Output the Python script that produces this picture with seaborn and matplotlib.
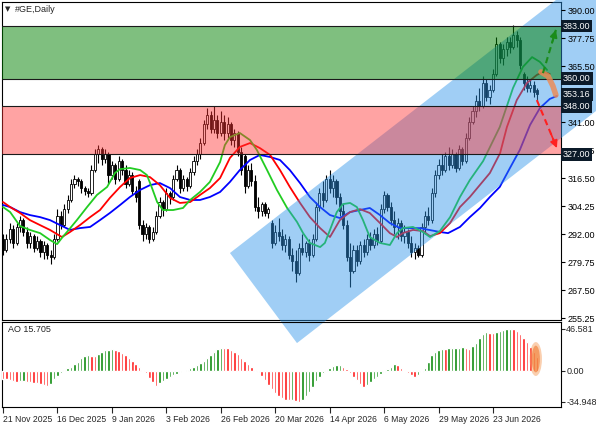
import numpy as np
import matplotlib
matplotlib.use("Agg")
import matplotlib.pyplot as plt
import seaborn as sns
from matplotlib.patches import Polygon, Rectangle, Ellipse

# ---------------- data ----------------
open_ = [290,285,290,294,288,295,298,293,288,291, 286,289,284,287,283,282,290,300,296,303,
         307,314,316,315,312,311,310,320,327,329, 325,327,318,322,316,324,320,314,318,311,
         315,296,292,295,290,293,300,306,303,310, 308,316,320,312,316,313,319,324,327,332,
         340,344,338,342,336,341,336,340,333,336, 328,326,313,320,315,304,302,305,301,297,
         288,293,291,287,290,283,280,275,286,284, 288,283,290,304,310,307,316,312,315,308,
         302,296,282,276,285,280,287,284,290,287, 292,289,303,309,304,298,295,297,291,293,
         288,284,286,283,295,300,298,310,318,322, 320,326,322,327,321,329,324,334,341,346,
         350,348,358,352,355,362,375,369,373,376, 374,379,377,362,358,356,357,355]
high = [292,292,297,296,297,300,299,295,293,292, 291,290,289,288,285,292,303,302,305,309,
        316,318,317,316,313,312,322,329,331,330, 329,328,324,323,326,325,322,320,319,313,
        316,298,297,296,295,302,308,307,312,311, 318,322,321,318,317,321,326,329,334,342,
        347,346,348,344,346,344,343,341,338,337, 330,327,322,323,318,308,306,306,304,298,
        296,299,294,292,291,286,285,288,292,289, 290,292,306,312,315,318,320,318,316,310,
        305,298,288,287,287,289,290,292,293,294, 295,305,311,310,306,302,299,298,296,294,
        291,288,287,297,302,304,312,320,325,327, 328,330,329,328,331,330,336,343,348,353,
        356,361,360,357,364,378,376,375,378,378, 383.5,381,378,363,361,360,359,356]
low = [283,284,288,286,287,293,291,286,286,284, 285,282,281,281,279,281,289,294,295,301,
       306,312,313,310,309,308,309,319,323,322, 323,314,316,314,315,318,312,313,309,306,
       294,289,290,288,289,292,299,300,302,305, 307,315,310,311,311,312,318,322,325,331,
       338,336,336,334,335,333,334,331,330,326, 318,310,312,313,302,299,300,300,299,286,
       287,289,285,284,281,276,271,274,283,282, 280,282,289,302,304,306,310,308,305,300,
       294,280,269,275,278,279,282,283,285,286, 287,288,301,302,296,292,290,289,288,286,
       282,281,282,282,292,296,297,308,316,318, 319,320,321,319,320,322,323,333,340,343,
       346,347,350,349,354,361,367,366,370,371, 373,374,364,355,354,354,352,350]
close = [285,290,294,288,295,298,293,288,291,286, 289,284,287,283,282,290,300,296,303,307,
         314,316,315,312,311,310,320,327,329,325, 327,318,322,316,324,320,314,318,311,308,
         296,292,295,290,293,300,306,303,310,308, 316,320,312,316,313,319,324,327,332,340,
         344,338,342,336,341,336,340,333,336,328, 320,313,320,315,304,302,305,301,303,288,
         293,291,287,290,283,280,275,286,284,288, 283,290,304,310,307,316,312,315,308,302,
         296,282,276,285,280,287,284,290,287,292, 289,303,309,304,298,295,297,291,293,288,
         284,286,283,295,300,298,310,318,322,320, 326,322,327,321,329,324,334,341,346,350,
         348,358,352,355,362,375,369,373,376,374, 379,377,366,358,356,357,354,353.16]

# Alligator lines (bar position incl. forward shift, value)
jaw_bar = [0,2.1,5,7.9,10.9,13.8,16.8,19.7,22.6,25.6,28.5,31.4,34.4,37.3,40.3,43.2,46.1,49.1,52,55,
           57.9,60.8,63.8,66.7,69.6,72.6,75.5,78.5,81.4,84.3,87.3,90.2,93.2,96.1,99,102,104.9,107.8,
           110.8,113.7,116.7,122.5,128.4,130.8,134.3,137.2,140.2,143.1,146,149,151.9,154.9,157.8,160.7,162.8]
jaw_val = [304.7,303.8,301.6,300.3,299.4,298.1,295.9,293.8,294.6,295.1,298.1,301.2,304.7,308.2,311.3,
           313.4,314.3,312.1,308.2,306.9,306.9,308.2,310.4,314.8,320.0,324.4,326.6,325.7,324.4,320.0,
           314.3,308.2,303.8,300.3,299.0,301.6,302.5,303.4,300.3,296.8,294.6,294.6,292.9,292.4,295.1,
           299.4,303.4,308.2,312.6,320.9,328.8,339.7,347.1,351.1,352.4]
teeth_bar = [0,2.1,5,7.9,10.9,13.8,17.3,19.7,22.6,25.6,28.5,31.4,34.4,37.3,40.3,43.2,46.1,49.1,52,55,
             57.9,60.8,63.8,66.7,69.6,72.6,75.5,78.5,81.4,84.3,87.3,90.2,93.2,96.1,99,102,104.9,107.8,
             110.8,113.7,115.8,117.5,120.5,123.4,125.5,128.4,131.4,134.3,137.2,143.1,146.1,148.1,151,
             154,156.9,158.7,160.7]
teeth_val = [306.0,303.8,301.2,298.1,295.9,293.8,290.7,292.9,295.9,299.4,302.5,307.8,312.6,316.5,317.8,
             316.9,313.4,307.8,305.6,306.0,309.1,312.1,316.5,325.3,330.1,331.8,329.6,326.6,320.0,312.6,
             305.6,299.4,294.6,290.7,298.1,301.6,302.9,301.2,296.8,292.4,290.7,292.4,293.8,293.3,291.1,
             292.4,296.8,303.8,308.2,318.7,327.4,338.8,350.6,358.1,361.6,362.9,362.0]
lips_bar = [0,2.1,5,7.9,10.9,13.8,15.9,17.3,18.8,21.7,24.7,27.6,30.6,32.9,34.4,37.3,40.3,42.3,43.8,45.3,
            47,50,52.9,55,57.9,60.8,63.8,65.2,66.7,69.6,72.6,74.6,77.6,80.5,83.5,86.4,88.2,90.2,93.2,
            94.6,96.1,98.1,99.9,102,104,105.8,107.8,110.8,113.7,115.8,117.5,120.5,123.4,125.5,128.4,
            131.4,134.3,137.2,141.1,146,149.9,152.8,155.5,157.8,159.9]
lips_val = [303.8,301.6,295.5,293.8,292.4,289.4,287.6,290.3,292.9,298.1,303.8,309.1,312.6,318.7,320.4,
            320.9,320.0,317.8,312.1,306.0,302.5,302.5,303.4,306.9,310.4,314.8,323.5,330.9,334.4,336.2,
            333.1,328.8,320.0,311.3,303.4,297.3,292.4,288.1,286.3,288.1,293.8,301.6,305.1,305.6,303.8,
            298.1,290.7,288.1,287.2,292.4,294.6,295.1,292.9,290.7,293.3,299.4,308.2,315.6,323.9,338.8,
            355.9,365.1,369.4,367.3,363.8]

ao = [-9,-10,-11,-12,-12.5,-12,-11.5,-12.5,-13,-13.5,
      -14.5,-15.5,-16.5,-17.5,-15,-10,-6,-2.5,0.5,2.5,
      4.5,7,10,13.5,16,17.2,16.5,15.8,18.5,20.5,
      22.5,23.5,24,23,21.5,19.5,17,14,10.5,7,
      3.5,0.5,-3,-8,-13,-17,-14.5,-11.5,-9,-7,
      -5,-3.5,-2,-0.5,1,2.5,4,6,8.5,11,
      14,17.5,21,24,25.5,25.3,24.8,23.5,21,18,
      14.5,11,7.5,4,1,-2,-6,-11,-16,-21,
      -25,-28.5,-31,-32.5,-33.5,-32.8,-33.8,-34.948,-33,-29,
      -24,-18,-12,-7,-3,1,3,5,6,6.5,
      4.5,1.5,-3,-7,-11,-15,-18,-16.5,-13,-10,
      -7,-4,-1.5,1.5,4,7.5,6,3,-0.5,-3,
      -5.5,-7.5,-5,-2,3,10,17,21,23.5,24.5,
      24,24.8,25.2,25.5,25.8,26,25.3,24.6,27,31,
      36,40.5,43.5,42.5,42,43.5,44.5,45.5,46.1,46.581,
      46.3,44.5,41,37,32,26.5,21,15.705]

date_tick_bars = [0, 16, 32, 48, 64, 80, 96, 112, 128, 144]
date_labels = ["21 Nov 2025", "16 Dec 2025", "9 Jan 2026", "3 Feb 2026", "26 Feb 2026",
               "20 Mar 2026", "14 Apr 2026", "6 May 2026", "29 May 2026", "23 Jun 2026"]
price_ticks = [255.25, 267.50, 279.75, 292.00, 304.25, 316.50, 328.75, 341.00,
               353.25, 365.50, 377.75, 390.00]
hidden_ticks = [353.25]          # fully covered by the current-price box
green_zone = (360.0, 383.0)
red_zone = (327.0, 348.0)
box_labels = [383.00, 360.00, 353.16, 348.00, 327.00]
ao_ticks = [-34.948, 0.0, 46.581]
ao_tick_labels = ["-34.948", "0.00", "46.581"]

# analyst drawings (bar, price)
channel_pts = [(66.7, 283.7), (86.4, 244.3), (216.0, 394.0), (196.3, 433.4)]
up_arrow = [(158.7, 362.4), (162.5, 381.3)]
down_arrow = [(156.9, 350.6), (162.8, 329.6)]
orange_bar = [158.1, 160.2, 161.6, 162.5]
orange_val = [362.9, 361.1, 356.8, 352.8]

# ---------------- figure ----------------
sns.set_style("white")
plt.rcParams['font.family'] = ['Liberation Sans', 'DejaVu Sans']
FS = 6.5
FSX = 6.2

W, H = 596, 425
fig = plt.figure(figsize=(W / 100, H / 100), dpi=100)
fig.patch.set_facecolor('white')
LPX, RPX = 2, 561


def rect(top, bottom):
    return [LPX / W, 1 - bottom / H, (RPX - LPX) / W, (bottom - top) / H]


ax = fig.add_axes(rect(2, 320))
ax2 = fig.add_axes(rect(322, 407))
ax.set_facecolor('white')
ax2.set_facecolor('none')

XMIN, XMAX = -0.3, 164.0
n = len(close)
x = np.arange(n)
o, h, l, c = (np.asarray(a, float) for a in (open_, high, low, close))
up = c >= o

ax.vlines(x, l, h, color='black', lw=0.8, zorder=2)
ax.bar(x, np.maximum(np.abs(c - o), 0.35), bottom=np.minimum(o, c), width=0.62,
       color=np.where(up, 'white', 'black'), edgecolor='black', linewidth=0.6, zorder=3)

for bars, vals, col in [(jaw_bar, jaw_val, '#0000ff'),
                        (teeth_bar, teeth_val, '#ff0000'),
                        (lips_bar, lips_val, '#22cc22')]:
    sns.lineplot(x=bars, y=vals, ax=ax, color=col, lw=1.3, sort=False,
                 estimator=None, zorder=4)

chan = Polygon(channel_pts, closed=True, facecolor=(44 / 255, 148 / 255, 233 / 255),
               alpha=0.45, edgecolor='none', zorder=5, clip_on=False)
ax.add_patch(chan)

ytr = ax.get_yaxis_transform()
ax.add_patch(Rectangle((0, green_zone[0]), 1, green_zone[1] - green_zone[0], transform=ytr,
                       facecolor=(0, 0.5, 0), alpha=0.5, edgecolor='none', zorder=6))
ax.add_patch(Rectangle((0, red_zone[0]), 1, red_zone[1] - red_zone[0], transform=ytr,
                       facecolor=(1, 0.2, 0.2), alpha=0.45, edgecolor='none', zorder=6))
for lv in (*green_zone, *red_zone):
    ax.axhline(lv, color='#1a1a1a', lw=0.8, zorder=7)

# analyst arrows
ax.plot(orange_bar, orange_val, color='#f08850', alpha=0.8, lw=4,
        solid_capstyle='round', zorder=9)
for (p0, p1), col in [(up_arrow, '#1a8c1a'), (down_arrow, '#ff2020')]:
    ax.plot([p0[0], p1[0]], [p0[1], p1[1]], color=col, lw=1.5, ls=(0, (3, 2)), zorder=9)
    mid = (p1[0] - 0.3 * (p1[0] - p0[0]), p1[1] - 0.3 * (p1[1] - p0[1]))
    ax.annotate('', xy=p1, xytext=mid,
                arrowprops=dict(arrowstyle='-|>', color=col, lw=1.2, mutation_scale=11,
                                shrinkA=0, shrinkB=0), zorder=9, annotation_clip=False)

ax.set_xlim(XMIN, XMAX)
ax.set_ylim(254.4, 393.5)
ax.set_xticks([])
ax.yaxis.tick_right()
ax.set_yticks(price_ticks)
ax.set_yticklabels(['' if t in hidden_ticks else f'{t:.2f}' for t in price_ticks], fontsize=FS)
ax.tick_params(axis='y', length=3, width=0.8, pad=1.5, colors='black', right=True, left=False)
ax.yaxis.set_zorder(11)
ax.set_xlabel(''); ax.set_ylabel('')

for val in box_labels:
    ax.annotate(f'{val:.2f}', xy=(1, val), xycoords=('axes fraction', 'data'),
                xytext=(1.4, 0), textcoords='offset points', fontsize=FS, color='white',
                va='center', ha='left', zorder=20, annotation_clip=False,
                bbox=dict(boxstyle='square,pad=0.22', fc='#0b1a29', ec='none'))

# ---- AO panel ----
ao_arr = np.asarray(ao, float)
rising = np.r_[False, ao_arr[1:] > ao_arr[:-1]]
ax2.bar(x, ao_arr, width=0.72, color=np.where(rising, '#0a8a0a', '#ff1a1a'), zorder=3)
ax2.add_patch(Ellipse((156.6, 12.9), 3.6, 38, facecolor='#f6a060', alpha=0.5,
                      edgecolor='none', zorder=4))
ax2.add_patch(Ellipse((156.6, 12.9), 2.4, 30, facecolor='#f07a30', alpha=0.6,
                      edgecolor='none', zorder=4))
ax2.set_xlim(XMIN, XMAX)
ax2.set_ylim(-40.9, 54.4)
ax2.yaxis.tick_right()
ax2.set_yticks(ao_ticks)
ax2.set_yticklabels(ao_tick_labels, fontsize=FS)
ax2.set_xticks(date_tick_bars)
ax2.set_xticklabels(date_labels, fontsize=FSX, ha='left')
ax2.tick_params(axis='y', length=3, width=0.8, pad=0.8, right=True, left=False)
ax2.tick_params(axis='x', length=4, width=0.8, pad=1.5, bottom=True)
ax2.text(0.01, 0.906, f'AO {ao[-1]}', transform=ax2.transAxes, fontsize=FS,
         va='center', ha='left')

for a in (ax, ax2):
    for s in a.spines.values():
        s.set_color('black'); s.set_linewidth(0.8); s.set_visible(True)

fig.text(5 / W, 1 - 9 / H, '\u25BC', fontsize=5, va='center', ha='left',
         family=['DejaVu Sans'])
fig.text(15 / W, 1 - 9 / H, '#GE,Daily', fontsize=FS, va='center', ha='left')

fig.savefig('out.png', dpi=100, facecolor='white')
